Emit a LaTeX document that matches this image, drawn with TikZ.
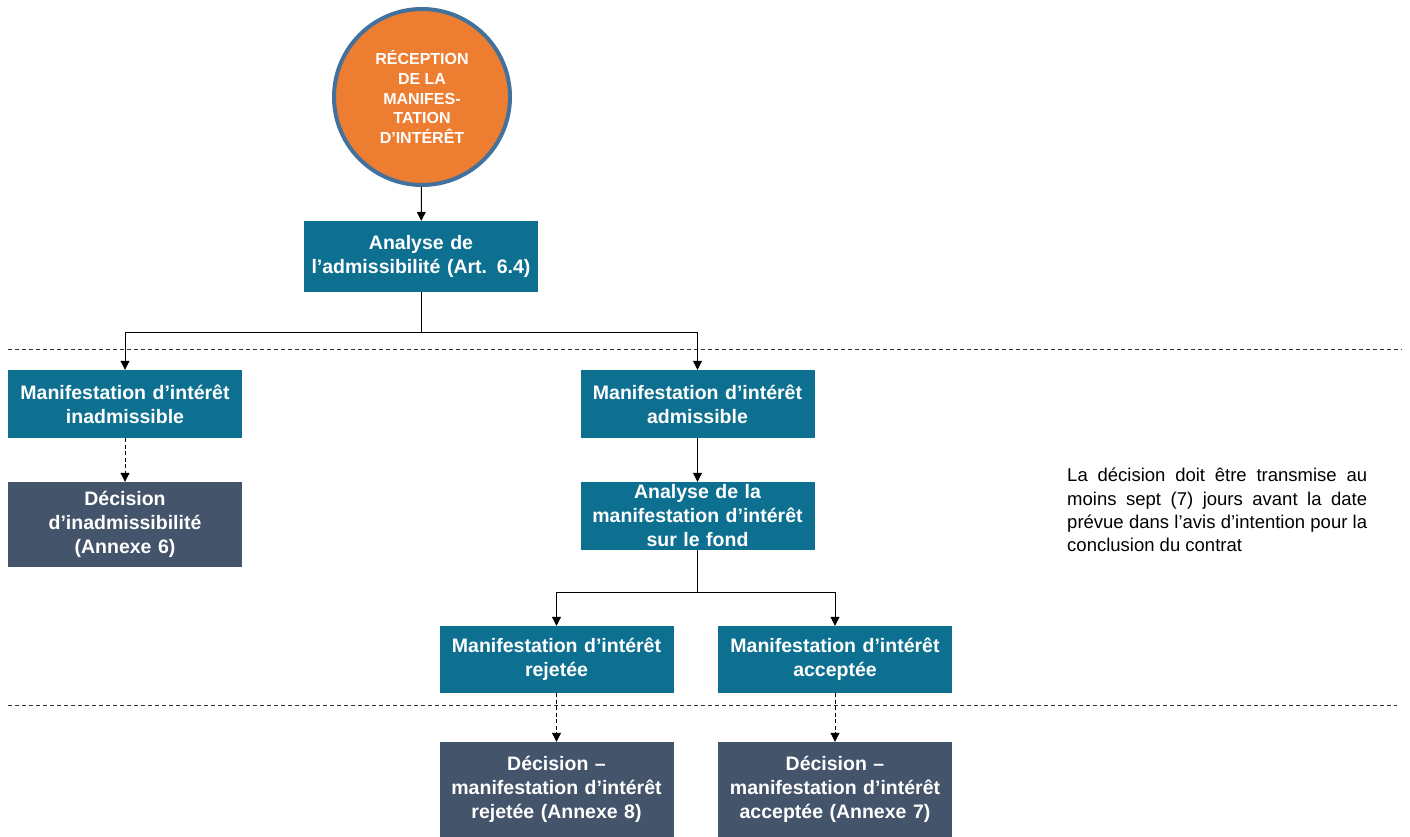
\documentclass[tikz,border=0pt]{standalone}
\usepackage{fontspec}
\setmainfont{Liberation Sans}
\usetikzlibrary{arrows.meta}

\definecolor{tealbox}{HTML}{0E7090}
\definecolor{slatebox}{HTML}{44546A}
\definecolor{orangecirc}{HTML}{ED7D31}
\definecolor{bluering}{HTML}{41719C}

\newcommand\boxfont{\fontsize{19.5}{24}\selectfont\bfseries\spaceskip=.38em plus .1em\relax}

\tikzset{
  stepbox/.style={fill=tealbox, text=white, minimum width=234pt, text width=228pt,
    align=center, inner sep=0pt, font=\boxfont},
  decbox/.style={stepbox, fill=slatebox},
  link/.style={line width=1pt, -{Triangle[width=9pt,length=9pt]}},
  dlink/.style={link, dash pattern=on 4pt off 2.5pt},
  sepline/.style={line width=1pt, dash pattern=on 4pt off 3pt, black!80}
}

\begin{document}
\begin{tikzpicture}[x=1pt,y=-1pt]
\useasboundingbox (0,0) rectangle (1410,837);

% separators
\draw[sepline] (8,349) -- (1402,349);
\draw[sepline] (8,705) -- (1397,705);

\node[circle, fill=orangecirc, draw=bluering, line width=4pt, minimum size=176pt,
  align=center, text=white, font=\fontsize{16}{19.7}\selectfont\bfseries] (recep) at (422,97)
  {RÉCEPTION\\DE LA\\MANIFES-\\TATION\\D’INTÉRÊT};

\node[stepbox, minimum height=71pt] (admiss) at (421,256.5) {Analyse de\\l’admissibilité (Art. 6.4)};

\node[stepbox, minimum height=68pt] (inadm) at (125,404) {Manifestation d’intérêt\\inadmissible};
\node[decbox, minimum height=85pt] (decinadm) at (125,524.5) {Décision\\d’inadmissibilité\\(Annexe 6)};

\node[stepbox, minimum height=68pt] (adm) at (697.5,404) {Manifestation d’intérêt\\admissible};
\node[stepbox, minimum height=68pt] (fond) at (697.5,516) {Analyse de la\\manifestation d’intérêt\\sur le fond};

\node[stepbox, minimum height=67pt] (rej) at (556.5,659.5) {Manifestation d’intérêt\\rejetée};
\node[stepbox, minimum height=67pt] (acc) at (835,659.5) {Manifestation d’intérêt\\acceptée};

\node[decbox, minimum height=95pt] (decrej) at (556.5,789.5) {Décision –\\manifestation d’intérêt\\rejetée (Annexe 8)};
\node[decbox, minimum height=95pt] (decacc) at (835,789.5) {Décision –\\manifestation d’intérêt\\acceptée (Annexe 7)};

\node[anchor=north west, inner sep=0pt, text width=300pt, align=justify,
  font=\fontsize{18.5}{23.3}\selectfont] (delai) at (1067,468)
  {La décision doit être transmise au moins sept (7) jours avant la date prévue dans l’avis d’intention pour la conclusion du contrat};

% connectors
\coordinate (split1) at (421,332);
\coordinate (split2) at (697.5,592);
\draw[link] (recep) -- (admiss);
\draw[line width=1pt] (admiss) -- (split1);
\draw[link] (split1) -| (inadm);
\draw[link] (split1) -| (adm);
\draw[dlink] (inadm) -- (decinadm);
\draw[link] (adm) -- (fond);
\draw[line width=1pt] (fond) -- (split2);
\draw[link] (split2) -| (rej);
\draw[link] (split2) -| (acc);
\draw[dlink] (rej) -- (decrej);
\draw[dlink] (acc) -- (decacc);

\end{tikzpicture}
\end{document}
